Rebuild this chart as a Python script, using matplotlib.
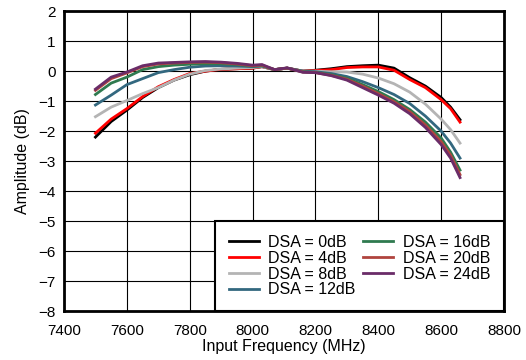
import matplotlib
matplotlib.use("Agg")
import matplotlib.pyplot as plt

plt.rcParams["font.family"] = ["Liberation Sans", "DejaVu Sans"]

freq = [7500, 7550, 7600, 7650, 7700, 7750, 7800, 7850, 7900, 7950, 8000, 8030,
        8070, 8110, 8160, 8200, 8250, 8300, 8350, 8400, 8450, 8500, 8550, 8600,
        8630, 8660]

dsa0 = [-2.2, -1.68, -1.3, -0.88, -0.55, -0.3, -0.12, 0.0, 0.06, 0.08, 0.1, 0.15,
        0.05, 0.1, 0.0, 0.03, 0.08, 0.15, 0.18, 0.2, 0.1, -0.22, -0.5, -0.88,
        -1.2, -1.62]
dsa4 = [-2.07, -1.6, -1.25, -0.85, -0.52, -0.28, -0.08, 0.0, 0.06, 0.08, 0.1, 0.15,
        0.05, 0.1, 0.0, 0.02, 0.05, 0.12, 0.14, 0.14, 0.03, -0.28, -0.55, -0.95,
        -1.25, -1.7]
dsa8 = [-1.52, -1.2, -0.98, -0.75, -0.55, -0.3, -0.1, 0.02, 0.07, 0.1, 0.12, 0.15,
        0.05, 0.1, 0.0, 0.0, -0.02, -0.03, -0.1, -0.23, -0.42, -0.7, -1.1, -1.6,
        -1.95, -2.4]
dsa12 = [-1.13, -0.8, -0.45, -0.25, -0.05, 0.05, 0.13, 0.17, 0.18, 0.17, 0.15, 0.17,
         0.05, 0.1, 0.0, -0.02, -0.08, -0.18, -0.35, -0.55, -0.78, -1.08, -1.5,
         -2.0, -2.4, -2.9]
dsa16 = [-0.78, -0.4, -0.2, 0.05, 0.15, 0.2, 0.23, 0.25, 0.25, 0.22, 0.17, 0.18,
         0.05, 0.1, -0.02, -0.04, -0.12, -0.24, -0.45, -0.68, -0.95, -1.28, -1.7,
         -2.23, -2.7, -3.3]
dsa20 = [-0.64, -0.25, -0.06, 0.15, 0.24, 0.27, 0.29, 0.3, 0.28, 0.24, 0.18, 0.2,
         0.05, 0.1, -0.03, -0.05, -0.14, -0.27, -0.5, -0.75, -1.02, -1.35, -1.8,
         -2.35, -2.8, -3.45]
dsa24 = [-0.6, -0.2, -0.03, 0.18, 0.27, 0.29, 0.31, 0.32, 0.3, 0.26, 0.2, 0.22,
         0.05, 0.11, -0.04, -0.05, -0.15, -0.3, -0.55, -0.8, -1.07, -1.42, -1.88,
         -2.45, -2.9, -3.55]

labels = ["DSA = 0dB", "DSA = 4dB", "DSA = 8dB", "DSA = 12dB",
          "DSA = 16dB", "DSA = 20dB", "DSA = 24dB"]
series = [dsa0, dsa4, dsa8, dsa12, dsa16, dsa20, dsa24]
colors = ["#000000", "#ff0000", "#b4b4b4", "#33687f",
          "#2f7a4f", "#b0443e", "#6a2c68"]

fig = plt.figure(figsize=(5.26, 3.6), dpi=100)
ax = fig.add_axes([0.1217, 0.136, 0.8365, 0.833])

for ys, c, lab in zip(series, colors, labels):
    ax.plot(freq, ys, color=c, lw=2.0, label=lab)

ax.set_xlim(7400, 8800)
ax.set_ylim(-8, 2)
ax.set_xticks(range(7400, 8801, 200))
ax.set_yticks(range(-8, 3))
ax.grid(True, color="black", lw=0.8)
ax.tick_params(length=0, labelsize=11)
ax.tick_params(axis="x", pad=9)
ax.tick_params(axis="y", pad=6)
for s in ax.spines.values():
    s.set_linewidth(2)
ax.set_xlabel("Input Frequency (MHz)", fontsize=11.5, labelpad=1)
ax.set_ylabel("Amplitude (dB)", fontsize=11.5, labelpad=6)

leg = ax.legend(loc="lower right", bbox_to_anchor=(1, 0), borderaxespad=0,
                ncol=2, fontsize=11.5, handlelength=1.9, handletextpad=0.6,
                columnspacing=0.45, labelspacing=0.05, fancybox=False,
                framealpha=1, edgecolor="black", borderpad=0.85)
leg.get_frame().set_linewidth(1.5)

fig.savefig("out.png", dpi=100)
